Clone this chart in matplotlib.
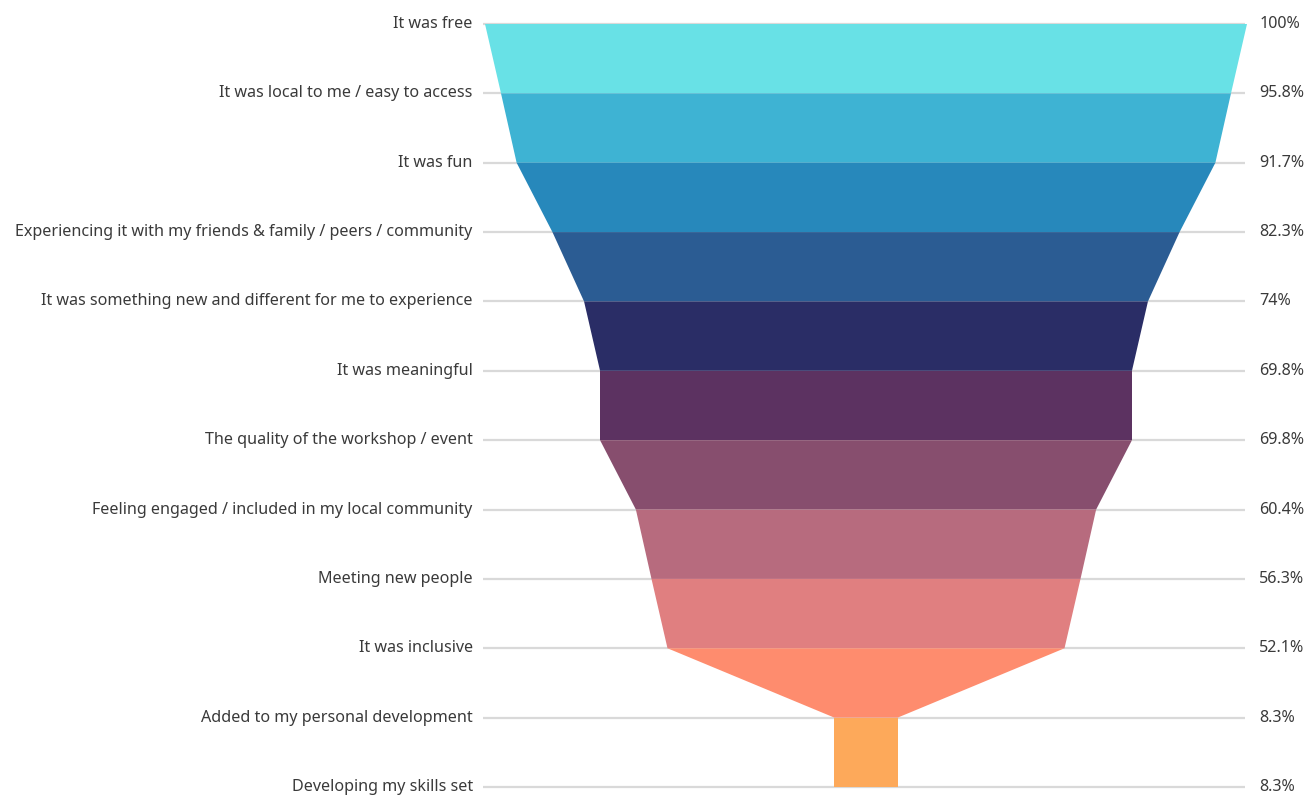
import matplotlib
matplotlib.use("Agg")
import matplotlib.pyplot as plt

categories = [
    "It was free",
    "It was local to me / easy to access",
    "It was fun",
    "Experiencing it with my friends & family / peers / community",
    "It was something new and different for me to experience",
    "It was meaningful",
    "The quality of the workshop / event",
    "Feeling engaged / included in my local community",
    "Meeting new people",
    "It was inclusive",
    "Added to my personal development",
    "Developing my skills set",
]
values = [100, 95.8, 91.7, 82.3, 74, 69.8, 69.8, 60.4, 56.3, 52.1, 8.3, 8.3]
value_labels = ["100%", "95.8%", "91.7%", "82.3%", "74%", "69.8%", "69.8%",
                "60.4%", "56.3%", "52.1%", "8.3%", "8.3%"]
colors = ["#68E1E6", "#3EB3D3", "#2788BB", "#2B5C93", "#2A2D66", "#5C3261",
          "#874E6E", "#B76B7E", "#E07F80", "#FE8C6E", "#FDA95A"]

plt.rcParams['font.family'] = ['Noto Sans', 'DejaVu Sans']

W, H = 1310, 796
fig = plt.figure(figsize=(W / 100, H / 100), dpi=100)
ax = fig.add_axes([0, 0, 1, 1])
ax.set_axis_off()

cx, ppp = 866, 7.62          # centre pixel, pixels per percent
y0, dy = 24, (787 - 24) / 11  # row pixel positions
ax.set_xlim((0 - cx) / ppp, (W - cx) / ppp)
ax.set_ylim((H - y0) / dy, (0 - y0) / dy)

n = len(categories)
for i in range(n):
    ax.plot([-50.3, 49.8], [i, i], color="#d9d9d9", lw=1.6, zorder=1,
            solid_capstyle="butt")
    ax.text(-51.6, i, categories[i], ha="right", va="center", fontsize=11.6,
            color="#3a3a3a")
    ax.text(51.6, i, value_labels[i], ha="left", va="center", fontsize=11.6,
            color="#3a3a3a")

for i in range(n - 1):
    a, b = values[i] / 2, values[i + 1] / 2
    ax.fill([-a, a, b, -b], [i, i, i + 1, i + 1], color=colors[i], lw=0,
            zorder=2)

fig.savefig("out.png", dpi=100, facecolor="white")
